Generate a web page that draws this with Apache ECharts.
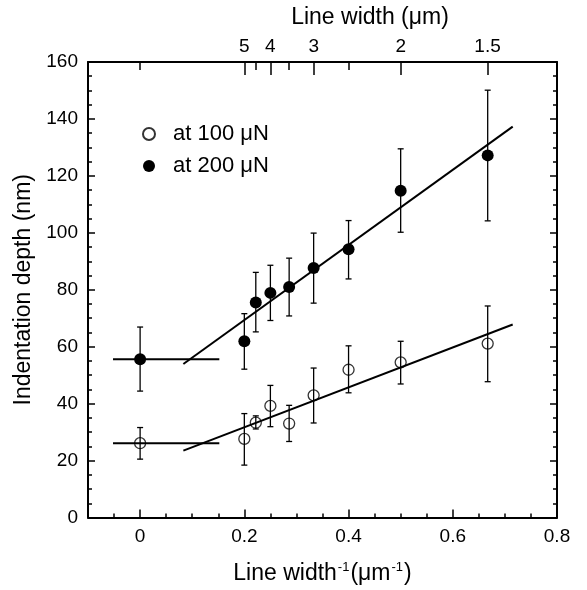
<!DOCTYPE html>
<html>
<head>
<meta charset="utf-8">
<script src="https://cdn.jsdelivr.net/npm/echarts@6/dist/echarts.min.js"></script>
<style>html,body{margin:0;padding:0;background:#fff}#c{width:587px;height:590px}</style>
</head>
<body>
<div id="c"></div>
<script>
// x = 1 / line width (µm^-1)
const invWidth = [0, 0.2, 0.222, 0.25, 0.286, 0.333, 0.4, 0.5, 0.667];
const at100 = [26.1, 27.6, 33.3, 39.2, 33.0, 42.9, 51.9, 54.5, 61.1];
const at100Hi = [31.6, 36.5, 35.7, 46.4, 39.4, 52.5, 60.3, 61.9, 74.3];
const at100Lo = [20.5, 18.4, 31.1, 31.9, 26.7, 33.2, 43.8, 46.9, 47.7];
const at200 = [55.6, 61.9, 75.5, 78.9, 81.0, 87.6, 94.2, 114.8, 127.2];
const at200Hi = [66.9, 71.6, 86.1, 88.6, 91.1, 99.9, 104.3, 129.5, 150.1];
const at200Lo = [44.4, 52.1, 65.2, 69.2, 70.8, 75.3, 83.8, 100.2, 104.2];
const fit100Flat = [[-0.052, 26.1], [0.152, 26.1]];
const fit100Slope = [[0.083, 23.5], [0.715, 67.8]];
const fit200Flat = [[-0.052, 55.6], [0.152, 55.6]];
const fit200Slope = [[0.083, 53.9], [0.715, 137.3]];
const bottomLabels = [0, 0.2, 0.4, 0.6, 0.8];
const topMajorWidths = [5, 4, 3, 2, 1.5];
const topMinorInv = [0, 1/4.5, 1/3.5, 1/2.5];
const yLabels = [0, 20, 40, 60, 80, 100, 120, 140, 160];

const FONT = 'Liberation Sans, Arial, sans-serif';
const topMajorInv = topMajorWidths.map(w => 1 / w);
const lineStyle = {color: '#000', width: 2};

function errData(lo, hi) { return invWidth.map((x, i) => [x, lo[i], hi[i]]); }
function renderErr(params, api) {
  const x = api.value(0);
  const a = api.coord([x, api.value(1)]);
  const b = api.coord([x, api.value(2)]);
  const w = 3;
  const st = {stroke: '#000', lineWidth: 1.3};
  return {type: 'group', children: [
    {type: 'line', shape: {x1: a[0], y1: a[1], x2: b[0], y2: b[1]}, style: st},
    {type: 'line', shape: {x1: a[0]-w, y1: a[1], x2: a[0]+w, y2: a[1]}, style: st},
    {type: 'line', shape: {x1: b[0]-w, y1: b[1], x2: b[0]+w, y2: b[1]}, style: st}
  ]};
}
const baseX = {type: 'value', min: -0.1, max: 0.8, splitLine: {show: false}};
const tickStyle = {width: 1.5, color: '#000'};

const chart = echarts.init(document.getElementById('c'), null, {renderer: 'canvas'});
chart.setOption({
  animation: false,
  textStyle: {fontFamily: FONT},
  grid: {left: 88, right: 30, top: 62, bottom: 67, containLabel: false},
  legend: {
    data: ['at 100 μN', 'at 200 μN'], orient: 'vertical', left: 137, top: 118,
    itemWidth: 12, itemHeight: 12, itemGap: 10,
    textStyle: {fontSize: 22, color: '#000', fontFamily: FONT, padding: [0, 0, 0, 13]}
  },
  xAxis: [
    Object.assign({}, baseX, {position: 'bottom', interval: 0.05,
      axisLine: {onZero: false, lineStyle: lineStyle}, axisTick: {inside: true, length: 4, lineStyle: tickStyle},
      axisLabel: {show: false},
      name: '{a|Line width}{s|-1}{a|(μm}{s|-1}{a|)}', nameLocation: 'middle', nameGap: 43,
      nameTextStyle: {rich: {
        a: {fontSize: 23, color: '#000', fontFamily: FONT, lineHeight: 26},
        s: {fontSize: 13, color: '#000', fontFamily: FONT, verticalAlign: 'top', lineHeight: 26, padding: [0, 1, 10, 1]}
      }}}),
    Object.assign({}, baseX, {position: 'bottom',
      axisLine: {show: false, onZero: false},
      axisTick: {inside: true, length: 8, customValues: bottomLabels, lineStyle: tickStyle},
      axisLabel: {customValues: bottomLabels, margin: 10, fontSize: 19, color: '#000', fontFamily: FONT,
        formatter: v => String(v)}}),
    Object.assign({}, baseX, {position: 'top',
      axisLine: {onZero: false, lineStyle: lineStyle},
      axisTick: {inside: true, length: 13, customValues: topMajorInv, lineStyle: tickStyle},
      axisLabel: {customValues: topMajorInv, margin: 6, fontSize: 19, color: '#000', fontFamily: FONT,
        formatter: v => {
          let best = 0;
          topMajorInv.forEach((t, i) => { if (Math.abs(t - v) < Math.abs(topMajorInv[best] - v)) best = i; });
          return String(topMajorWidths[best]);
        }},
      name: 'Line width (μm)', nameLocation: 'middle', nameGap: 33,
      nameTextStyle: {fontSize: 23, color: '#000', fontFamily: FONT, padding: [0, 0, 0, 95]}}),
    Object.assign({}, baseX, {position: 'top',
      axisLine: {show: false, onZero: false},
      axisTick: {inside: true, length: 8, customValues: topMinorInv, lineStyle: tickStyle},
      axisLabel: {show: false}})
  ],
  yAxis: [
    {type: 'value', position: 'left', min: 0, max: 160, interval: 20, splitLine: {show: false},
      axisLine: {show: true, onZero: false, lineStyle: lineStyle},
      axisTick: {inside: true, length: 7, lineStyle: tickStyle},
      minorTick: {show: true, splitNumber: 4, length: 4, lineStyle: tickStyle},
      axisLabel: {margin: 10, fontSize: 19, color: '#000', fontFamily: FONT,
        customValues: yLabels},
      name: 'Indentation depth (nm)', nameLocation: 'middle', nameGap: 47,
      nameTextStyle: {fontSize: 23, color: '#000', fontFamily: FONT}},
    {type: 'value', position: 'right', min: 0, max: 160, interval: 20, splitLine: {show: false},
      axisLine: {show: true, onZero: false, lineStyle: lineStyle},
      axisTick: {inside: true, length: 7, lineStyle: tickStyle},
      minorTick: {show: true, splitNumber: 4, length: 4, lineStyle: tickStyle},
      axisLabel: {show: false}}
  ],
  series: [
    {type: 'custom', name: 'err100', renderItem: renderErr, data: errData(at100Lo, at100Hi),
      encode: {x: 0, y: [1, 2]}, z: 2, silent: true},
    {type: 'custom', name: 'err200', renderItem: renderErr, data: errData(at200Lo, at200Hi),
      encode: {x: 0, y: [1, 2]}, z: 2, silent: true},
    {type: 'line', name: 'f1', data: fit100Flat, showSymbol: false, lineStyle: {color: '#000', width: 2}, z: 3},
    {type: 'line', name: 'f2', data: fit100Slope, showSymbol: false, lineStyle: {color: '#000', width: 2}, z: 3},
    {type: 'line', name: 'f3', data: fit200Flat, showSymbol: false, lineStyle: {color: '#000', width: 2}, z: 3},
    {type: 'line', name: 'f4', data: fit200Slope, showSymbol: false, lineStyle: {color: '#000', width: 2}, z: 3},
    {type: 'scatter', name: 'at 100 μN', data: invWidth.map((x, i) => [x, at100[i]]), symbol: 'circle', symbolSize: 11,
      itemStyle: {color: 'rgba(0,0,0,0)', borderColor: '#000', borderWidth: 1.3}, z: 4},
    {type: 'scatter', name: 'at 200 μN', data: invWidth.map((x, i) => [x, at200[i]]), symbol: 'circle', symbolSize: 12,
      itemStyle: {color: '#000', borderColor: '#000', borderWidth: 0, opacity: 1}, z: 4}
  ]
});
</script>
</body>
</html>
